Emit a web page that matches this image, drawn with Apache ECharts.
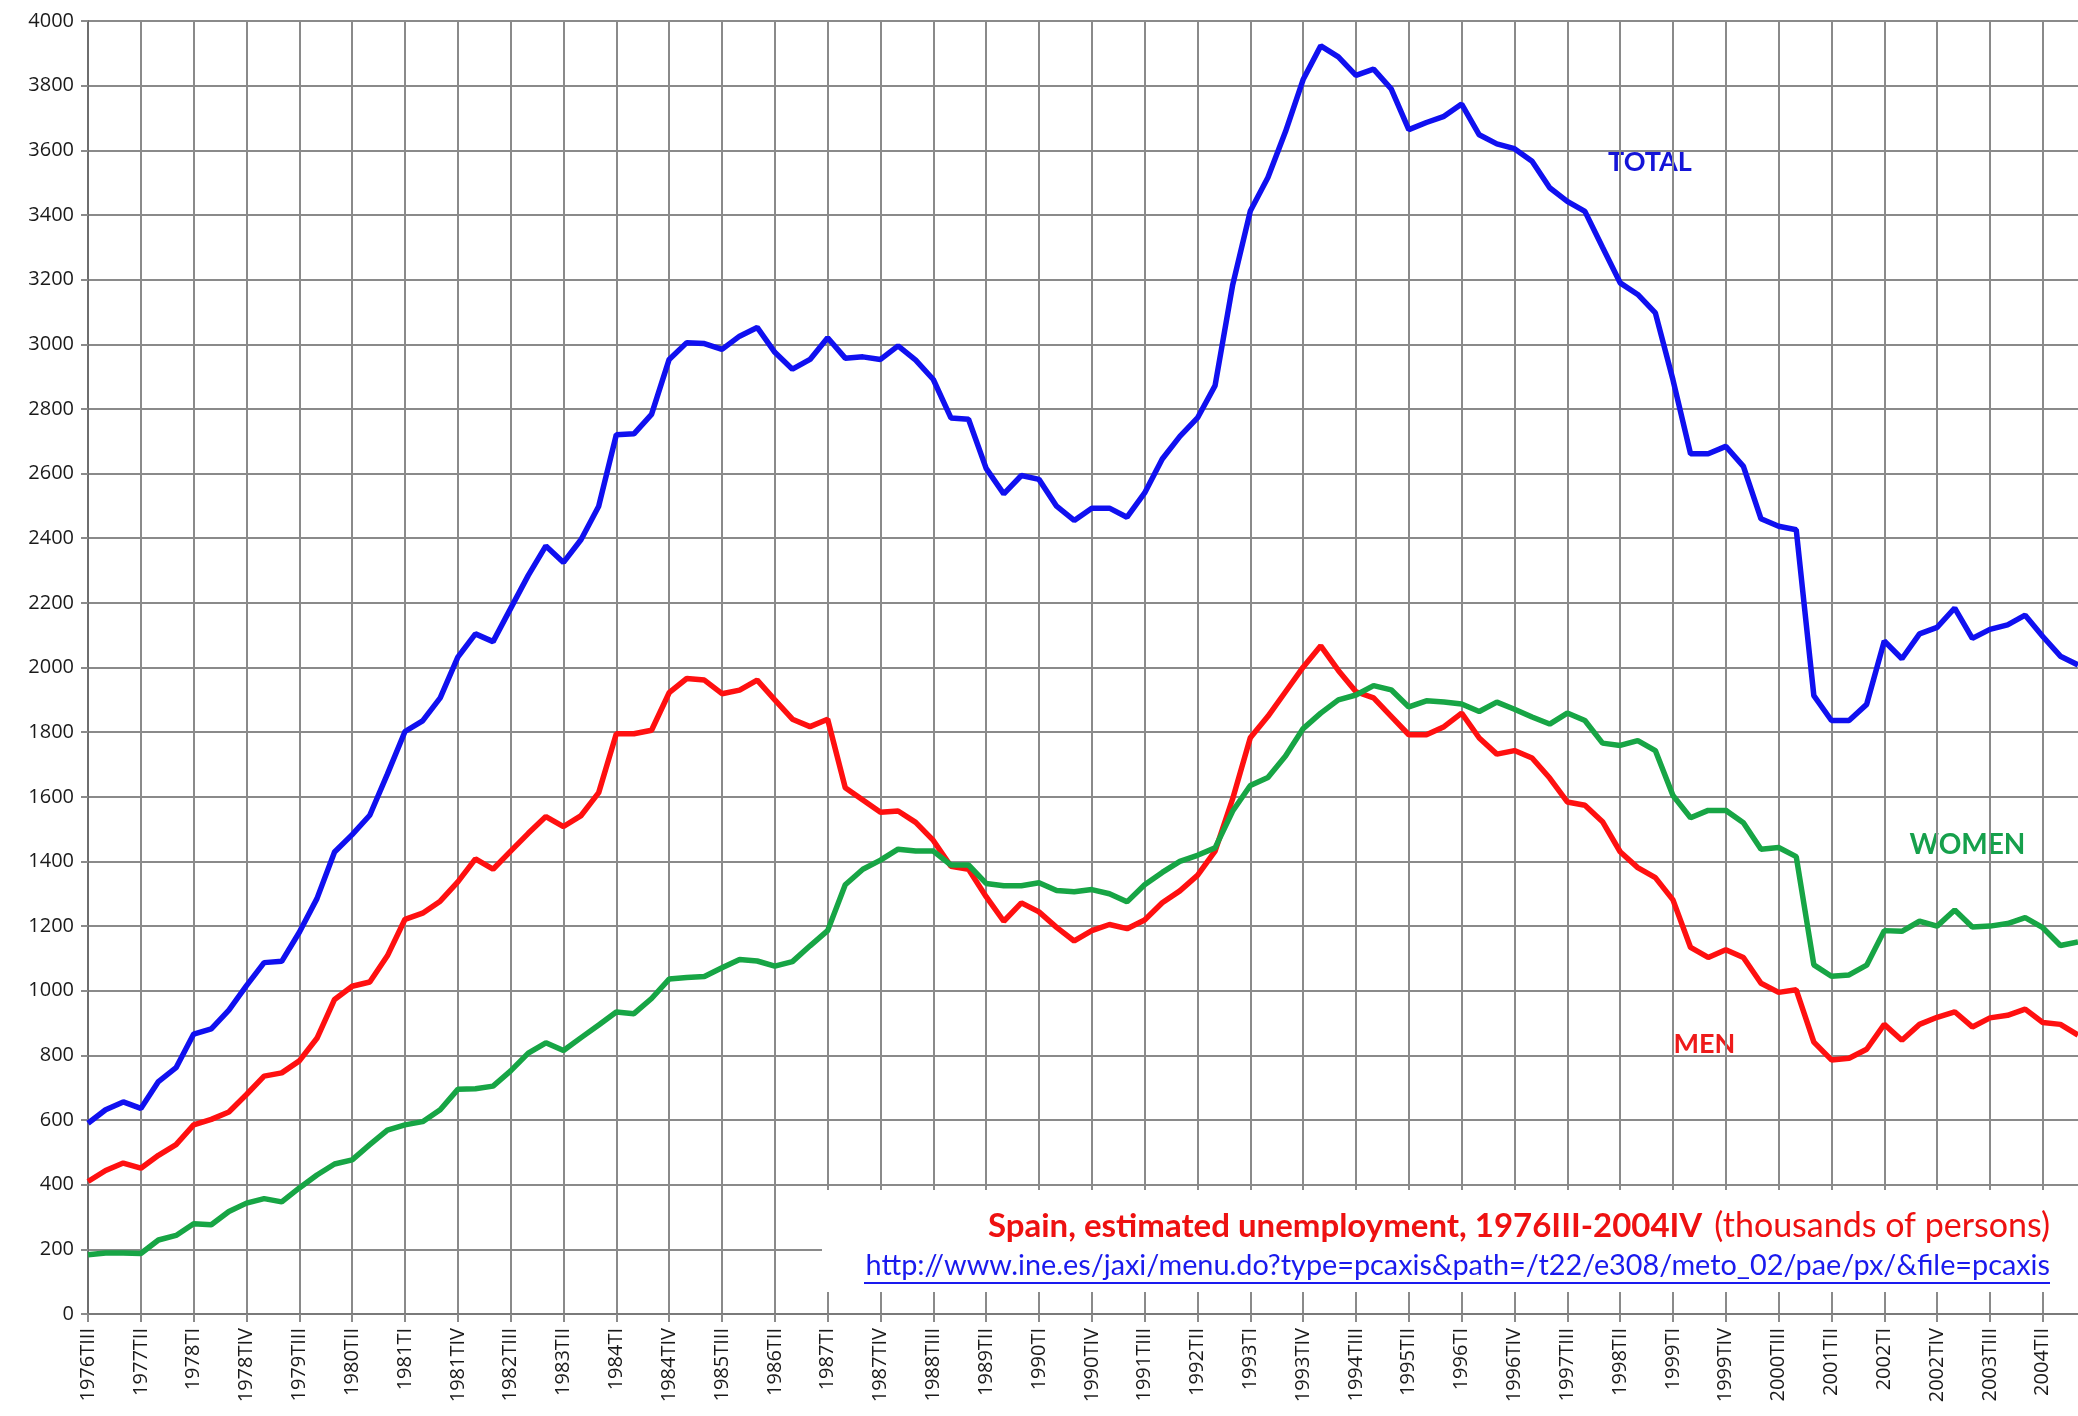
<!DOCTYPE html>
<html>
<head>
<meta charset="utf-8">
<title>Spain, estimated unemployment</title>
<script src="https://cdn.jsdelivr.net/npm/echarts@6/dist/echarts.min.js"></script>
<style>
  html, body { margin: 0; padding: 0; background: #fff; }
  #chart { width: 2078px; height: 1416px; }
</style>
</head>
<body>
<div id="chart"></div>
<script>
// quarters 1976TIII .. 2004TIV
const romans = ['I', 'II', 'III', 'IV'];
const quarters = [];
for (let y = 1976; y <= 2004; y++) {
    for (let q = 1; q <= 4; q++) {
        if (y === 1976 && q < 3) continue;
        quarters.push(y + 'T' + romans[q - 1]);
    }
}

// thousands of persons
const totalValues = [
    590, 632, 656, 636, 719, 762, 866, 882, 940, 1016,
    1087, 1091, 1181, 1285, 1429, 1483, 1543, 1670, 1802, 1835,
    1906, 2032, 2104, 2080, 2183, 2285, 2376, 2325, 2396, 2499,
    2720, 2723, 2783, 2953, 3005, 3002, 2984, 3025, 3052, 2975,
    2923, 2953, 3020, 2957, 2961, 2953, 2995, 2951, 2891, 2772,
    2768, 2616, 2537, 2594, 2582, 2499, 2455, 2493, 2493, 2465,
    2540, 2645, 2715, 2772, 2872, 3184, 3412, 3516, 3658, 3819,
    3923, 3889, 3832, 3851, 3790, 3664, 3686, 3705, 3743, 3648,
    3620, 3605, 3566, 3484, 3442, 3411, 3300, 3190, 3154, 3097,
    2890, 2661, 2661, 2684, 2622, 2460, 2437, 2426, 1913, 1836,
    1836, 1886, 2082, 2027, 2104, 2124, 2184, 2090, 2118, 2132,
    2162, 2096, 2035, 2008
];
const menValues = [
    410, 444, 467, 451, 491, 524, 585, 602, 625, 679,
    736, 746, 783, 853, 973, 1014, 1027, 1108, 1221, 1240,
    1277, 1337, 1408, 1376, 1432, 1487, 1539, 1508, 1542, 1613,
    1795, 1795, 1806, 1922, 1966, 1961, 1919, 1930, 1961, 1900,
    1840, 1817, 1840, 1628, 1590, 1552, 1556, 1521, 1465, 1385,
    1376, 1291, 1215, 1272, 1244, 1196, 1154, 1186, 1205, 1192,
    1219, 1272, 1309, 1357, 1432, 1594, 1783, 1849, 1925, 2001,
    2067, 1991, 1925, 1906, 1849, 1792, 1792, 1817, 1859, 1782,
    1732, 1743, 1720, 1658, 1584, 1574, 1523, 1430, 1381, 1350,
    1281, 1134, 1103, 1127, 1103, 1023, 995, 1003, 841, 786,
    791, 819, 896, 847, 896, 918, 935, 888, 916, 924,
    943, 902, 896, 863
];
const womenValues = [
    183, 189, 189, 187, 229, 243, 279, 276, 317, 343,
    357, 347, 390, 430, 464, 477, 524, 569, 585, 595,
    632, 695, 697, 705, 752, 807, 839, 815, 855, 894,
    934, 929, 976, 1036, 1041, 1044, 1071, 1097, 1092, 1076,
    1090, 1139, 1186, 1328, 1376, 1404, 1438, 1432, 1432, 1389,
    1389, 1332, 1325, 1325, 1334, 1310, 1306, 1313, 1300, 1275,
    1328, 1366, 1400, 1419, 1442, 1556, 1635, 1660, 1726, 1811,
    1859, 1900, 1915, 1944, 1931, 1878, 1897, 1893, 1887, 1864,
    1893, 1871, 1847, 1825, 1859, 1836, 1766, 1759, 1774, 1743,
    1604, 1535, 1558, 1558, 1520, 1438, 1443, 1415, 1080, 1045,
    1049, 1079, 1186, 1184, 1215, 1200, 1250, 1197, 1200, 1208,
    1226, 1195, 1140, 1151
];

const gridColor = '#8a8a8a';
const textFont = '"Open Sans", "DejaVu Sans", sans-serif';

// white patch behind a label so the grid stops around it
const labelBox = (x, y, w, h, text, color, size) => ({
    type: 'group',
    z: 50,
    children: [
        { type: 'rect', shape: { x: x, y: y, width: w, height: h }, style: { fill: '#fff' } },
        {
            type: 'text',
            x: x + w / 2,
            y: y + h / 2,
            style: {
                text: text,
                fill: color,
                font: 'bold ' + size + 'px Lato, "Open Sans", sans-serif',
                textAlign: 'center',
                textVerticalAlign: 'middle'
            }
        }
    ]
});

const chart = echarts.init(document.getElementById('chart'));

const option = {
    backgroundColor: '#fff',
    animation: false,
    grid: { left: 88, right: 0, top: 21, bottom: 102 },
    xAxis: {
        type: 'category',
        data: quarters,
        boundaryGap: false,
        axisLine: { lineStyle: { color: '#7a7a7a', width: 2 } },
        axisTick: { interval: 2, length: 8, lineStyle: { color: gridColor, width: 2 } },
        axisLabel: {
            interval: 2,
            rotate: 90,
            margin: 14,
            color: '#1a1a1a',
            fontSize: 20,
            fontFamily: textFont
        },
        splitLine: { show: true, interval: 2, lineStyle: { color: gridColor, width: 2 } }
    },
    yAxis: {
        type: 'value',
        min: 0,
        max: 4000,
        interval: 200,
        axisLine: { show: true, lineStyle: { color: '#6e6e6e', width: 2 } },
        axisTick: { show: true, length: 7, lineStyle: { color: gridColor, width: 2 } },
        axisLabel: {
            margin: 14,
            color: '#1a1a1a',
            fontSize: 20,
            fontFamily: textFont,
            formatter: (v) => String(v)
        },
        splitLine: { lineStyle: { color: gridColor, width: 2 } }
    },
    series: [
        {
            name: 'TOTAL', type: 'line', data: totalValues, showSymbol: false,
            lineStyle: { color: '#1010f0', width: 5.5 }, z: 3
        },
        {
            name: 'MEN', type: 'line', data: menValues, showSymbol: false,
            lineStyle: { color: '#ff1010', width: 5.5 }, z: 3
        },
        {
            name: 'WOMEN', type: 'line', data: womenValues, showSymbol: false,
            lineStyle: { color: '#17a545', width: 5.5 }, z: 3
        }
    ],
    graphic: [
        // caption panel
        { type: 'rect', z: 40, shape: { x: 822, y: 1190, width: 1256, height: 102 }, style: { fill: '#fff' } },
        {
            type: 'text', z: 41, x: 2050, y: 1226,
            style: {
                text: '{b|Spain, estimated unemployment, 1976III-2004IV}{s| }{n|(thousands of persons)}',
                textAlign: 'right',
                textVerticalAlign: 'middle',
                rich: {
                    b: { fill: '#ee1111', font: 'bold 33px Lato, "Open Sans", sans-serif' },
                    s: { font: '33px Lato, "Open Sans", sans-serif', width: 12 },
                    n: { fill: '#ee1111', font: '34px Lato, "Open Sans", sans-serif' }
                }
            }
        },
        {
            type: 'text', z: 41, x: 2050, y: 1266,
            style: {
                text: 'http://www.ine.es/jaxi/menu.do?type=pcaxis&path=/t22/e308/meto_02/pae/px/&file=pcaxis',
                fill: '#1a1aee',
                font: '28.8px Lato, "Open Sans", sans-serif',
                textAlign: 'right',
                textVerticalAlign: 'middle'
            }
        },
        { type: 'line', z: 41, shape: { x1: 864, y1: 1283, x2: 2050, y2: 1283 }, style: { stroke: '#1a1aee', lineWidth: 2 } },
        labelBox(1587, 132, 126, 60, 'TOTAL', '#1414d8', 27),
        labelBox(1888, 816, 159, 58, 'WOMEN', '#16a04c', 28),
        labelBox(1653, 1013, 103, 62, 'MEN', '#ee1b1b', 27)
    ]
};

chart.setOption(option);
</script>
</body>
</html>
